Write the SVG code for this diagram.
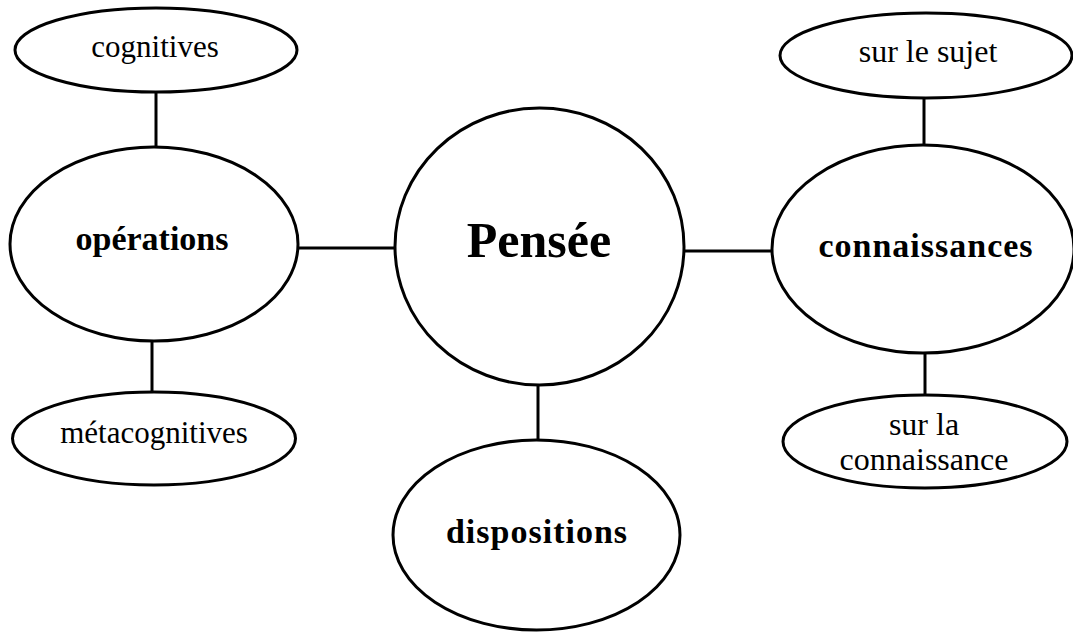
<svg xmlns="http://www.w3.org/2000/svg" width="1073" height="632" viewBox="0 0 1073 632">
<style>
.n{fill:#fff;stroke:#000;stroke-width:3}
.c line{stroke:#000;stroke-width:3}
text{font-family:"Liberation Serif","Times New Roman",serif;fill:#000;text-anchor:middle}
.r{font-size:31px}
.b{font-size:34px;font-weight:bold}
.bs{font-size:34px;font-weight:bold;letter-spacing:1px}
</style>
<rect width="1073" height="632" fill="#fff"/>
<g class="c" id="connectors">
<line x1="156" y1="92" x2="156" y2="147"/>
<line x1="152" y1="341" x2="152" y2="393"/>
<line x1="297" y1="248" x2="396" y2="248"/>
<line x1="683" y1="251" x2="773" y2="251"/>
<line x1="538" y1="384" x2="538" y2="441"/>
<line x1="924" y1="97" x2="924" y2="146"/>
<line x1="925" y1="352" x2="925" y2="396"/>
</g>
<g id="cognitives"><ellipse class="n" cx="156" cy="50" rx="141" ry="42"/><text class="r" x="155" y="57">cognitives</text></g>
<g id="operations"><ellipse class="n" cx="154" cy="244" rx="144" ry="97"/><text class="b" x="152" y="250">opérations</text></g>
<g id="metacognitives"><ellipse class="n" cx="154" cy="438.5" rx="141.5" ry="46.5"/><text class="r" x="154" y="443">métacognitives</text></g>
<g id="pensee"><ellipse class="n" cx="539.5" cy="246.5" rx="144.5" ry="138.5"/><text style="font-size:50px;font-weight:bold" x="539" y="257">Pensée</text></g>
<g id="dispositions"><ellipse class="n" cx="536.5" cy="535" rx="143.5" ry="95"/><text class="bs" x="537" y="543">dispositions</text></g>
<g id="connaissances"><ellipse class="n" cx="923" cy="249" rx="151" ry="104"/><text class="bs" x="926" y="257">connaissances</text></g>
<g id="sur-le-sujet"><ellipse class="n" cx="926" cy="55.5" rx="146" ry="42.5"/><text class="r" style="font-size:32px" x="928" y="62">sur le sujet</text></g>
<g id="sur-la-connaissance"><ellipse class="n" cx="925" cy="441.5" rx="142" ry="46.5"/><text class="r" style="font-size:32px" x="924" y="435">sur la</text><text class="r" style="font-size:32px" x="924" y="470">connaissance</text></g>
</svg>
